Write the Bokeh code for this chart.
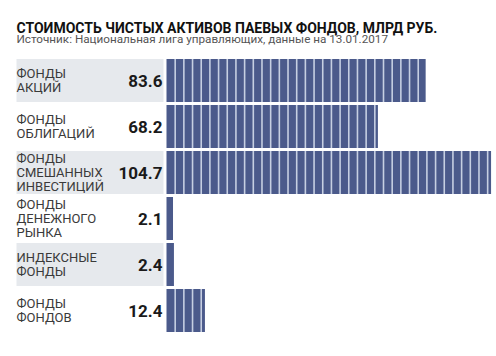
import numpy as np
from bokeh.plotting import figure
from bokeh.models import Range1d, Label
from bokeh.core.properties import value
from bokeh.embed import file_html
from bokeh.resources import INLINE

# ---- data ----
categories = ["ФОНДЫ\nАКЦИЙ", "ФОНДЫ\nОБЛИГАЦИЙ", "ФОНДЫ\nСМЕШАННЫХ\nИНВЕСТИЦИЙ",
              "ФОНДЫ\nДЕНЕЖНОГО\nРЫНКА", "ИНДЕКСНЫЕ\nФОНДЫ", "ФОНДЫ\nФОНДОВ"]
values = [83.6, 68.2, 104.7, 2.1, 2.4, 12.4]
value_labels = ["83.6", "68.2", "104.7", "2.1", "2.4", "12.4"]
title_text = "СТОИМОСТЬ ЧИСТЫХ АКТИВОВ ПАЕВЫХ ФОНДОВ, МЛРД РУБ."
subtitle_text = "Источник: Национальная лига управляющих, данные на 13.01.2017"

# ---- layout constants (canvas pixels) ----
W, H = 496, 340
X0_PX = 166          # canvas x of value 0
PX_PER_UNIT = 3.1
ROW0_PX = 80         # canvas y of first row center
ROW_PITCH = 46
SEG = 2.8            # width of one bar segment in data units

def xd(px):
    return (px - X0_PX) / PX_PER_UNIT

x_start, x_end = xd(0), xd(W)
y_top = -ROW0_PX / ROW_PITCH
y_bottom = (H - ROW0_PX) / ROW_PITCH

p = figure(width=W, height=H, output_backend="svg", toolbar_location=None,
           x_range=Range1d(x_start, x_end), y_range=Range1d(y_bottom, y_top),
           min_border=0, outline_line_color=None)
p.xaxis.visible = False
p.yaxis.visible = False
p.xgrid.visible = False
p.ygrid.visible = False
p.background_fill_color = "white"
p.border_fill_color = "white"

rows = np.arange(len(values))
half = 0.47

# gray background for alternate rows
alt = rows[::2]
p.quad(left=xd(16), right=xd(163), bottom=alt + half, top=alt - half,
       fill_color="#e6e9ed", line_color=None)

# bars
p.quad(left=0, right=values, bottom=rows + half, top=rows - half,
       fill_color="#4b5a8b", line_color=None)

# segment separators
sx, sy0, sy1 = [], [], []
for i, v in enumerate(values):
    for s in np.arange(SEG, v, SEG):
        sx.append(s); sy0.append(i - half); sy1.append(i + half)
p.segment(x0=sx, x1=sx, y0=sy0, y1=sy1, line_color="#c6cfe2", line_width=1.6)

# category labels
p.text(x=[xd(16)] * len(rows), y=rows, text=categories,
       text_font=value("Roboto"), text_font_size="13px", text_color="#3a3a3a",
       text_align="left", text_baseline="middle", text_line_height=0.93)

# value labels
p.text(x=[xd(162)] * len(rows), y=rows, text=value_labels,
       text_font=value("Roboto"), text_font_size="17px", text_font_style="bold",
       text_color="#1a1a1a", text_align="right", text_baseline="middle")

p.add_layout(Label(x=16, y=H - 27, x_units="screen", y_units="screen",
                   text=title_text, text_font="Roboto", text_font_size="14px",
                   text_font_style="bold", text_color="#111111",
                   text_baseline="middle"))
p.add_layout(Label(x=16, y=H - 38, x_units="screen", y_units="screen",
                   text=subtitle_text, text_font="Roboto", text_font_size="11.7px",
                   text_color="#555555", text_baseline="middle"))

open("out.html", "w").write(file_html(p, INLINE))
